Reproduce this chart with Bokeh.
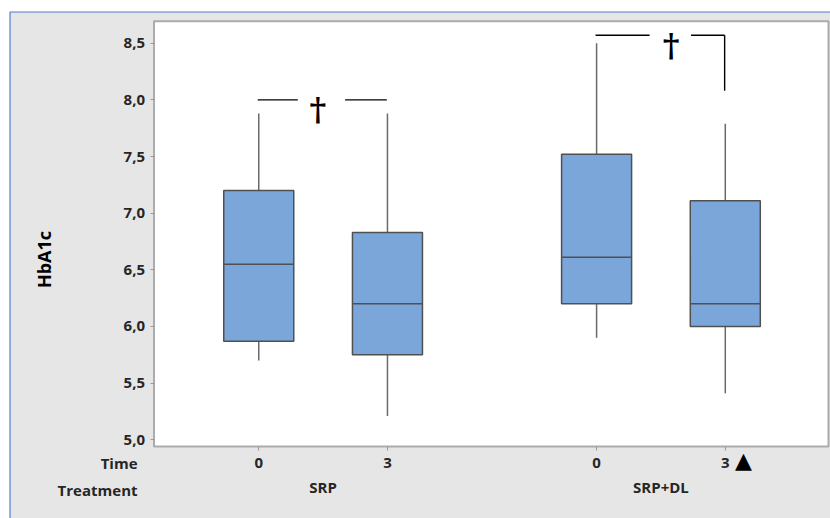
from bokeh.plotting import figure
from bokeh.models import (Range1d, FixedTicker, CustomJSTickFormatter, LinearAxis,
                          Label, ColumnDataSource)
from bokeh.core.properties import value
from bokeh.embed import file_html
from bokeh.resources import INLINE

# --- data -------------------------------------------------------------
treatment = ["SRP", "SRP", "SRP+DL", "SRP+DL"]
time = ["0", "3", "0", "3"]
positions = [1.0, 2.0, 3.625, 4.625]
whisker_low = [5.70, 5.21, 5.90, 5.41]
q1 = [5.87, 5.75, 6.20, 6.00]
median = [6.55, 6.20, 6.61, 6.20]
q3 = [7.20, 6.83, 7.52, 7.11]
whisker_high = [7.88, 7.88, 8.50, 7.79]

y_ticks = [5.0, 5.5, 6.0, 6.5, 7.0, 7.5, 8.0, 8.5]
group_names = ["SRP", "SRP+DL"]
group_centers = [1.5, 4.125]

# significance brackets: which boxes they join and the level they sit at
bracket_from = [0, 2]
bracket_to = [1, 3]
bracket_level = [8.0, 8.57]
bracket_drop = [None, 8.08]

# --- style ------------------------------------------------------------
BOX_FILL = "#7BA6DA"
BOX_LINE = "#505050"
WHISKER = "#6A6A6A"
PANEL_BG = "#E6E6E6"
PANEL_EDGE = "#4F7FCB"
FRAME_LINE = "#ABABAB"
TEXT = "#262626"
FONT = "Open Sans"
BOX_W = 0.544

W, H = 830, 518
# data extent of the white plotting area and where it sits on the page (px)
XLO, XHI, YLO, YHI = 0.186, 5.427, 4.941, 8.694
PL, PR, PT, PB = 153.5, 828.0, 20.7, 446.0
sx = (XHI - XLO) / (PR - PL)
sy = (YHI - YLO) / (PB - PT)
x_range = Range1d(XLO - PL * sx, XHI + (W - PR) * sx)
y_range = Range1d(YLO - (H - PB) * sy, YHI + PT * sy)


def px_x(px):
    return x_range.start + px * sx


def px_y(py):
    return y_range.end - py * sy


p = figure(width=W, height=H, x_range=x_range, y_range=y_range,
           output_backend="svg", toolbar_location=None,
           min_border=0, min_border_left=0, min_border_right=0,
           min_border_top=0, min_border_bottom=0,
           background_fill_color="white", border_fill_color="white",
           outline_line_color=None)
p.title = None
p.grid.visible = False

# grey panel with its blue edge, then the white plotting area
p.quad(left=[px_x(9.5)], right=[px_x(W + 10)], top=[px_y(11.5)], bottom=[px_y(H + 10)],
       fill_color=PANEL_BG, line_color=PANEL_EDGE, line_width=1.2)
p.quad(left=[XLO], right=[XHI], top=[YHI], bottom=[YLO],
       fill_color="white", line_color=FRAME_LINE, line_width=2)

src = ColumnDataSource(dict(x=positions, low=whisker_low, q1=q1, med=median,
                            q3=q3, high=whisker_high,
                            left=[x - BOX_W / 2 for x in positions],
                            right=[x + BOX_W / 2 for x in positions]))

# whiskers
p.segment(x0="x", y0="low", x1="x", y1="q1", source=src,
          line_color=WHISKER, line_width=1.5)
p.segment(x0="x", y0="q3", x1="x", y1="high", source=src,
          line_color=WHISKER, line_width=1.5)
# boxes and medians
p.vbar(x="x", bottom="q1", top="q3", width=BOX_W, source=src,
       fill_color=BOX_FILL, line_color=BOX_LINE, line_width=1.5)
p.segment(x0="left", y0="med", x1="right", y1="med", source=src,
          line_color=BOX_LINE, line_width=1.5)

# significance brackets with a dagger in the gap
gap_lo = [0.303, 0.412]
gap_hi = [0.671, 0.734]
dagger_at = [0.459, 0.579]
for a, b, lvl, drop, g0, g1, d in zip(bracket_from, bracket_to, bracket_level,
                                      bracket_drop, gap_lo, gap_hi, dagger_at):
    xa, xb = positions[a], positions[b]
    span = xb - xa
    p.segment(x0=[xa - 0.008, xa + g1 * span], y0=[lvl, lvl],
              x1=[xa + g0 * span, xb - 0.005], y1=[lvl, lvl],
              line_color="black", line_width=1.4)
    if drop is not None:
        p.segment(x0=[xb - 0.005], y0=[lvl], x1=[xb - 0.005], y1=[drop],
                  line_color="black", line_width=1.4)
    p.text(x=[xa + d * span], y=[lvl - 0.085], text=["\u2020"],
           text_font=value("DejaVu Serif"), text_font_style="bold",
           text_font_size="32px", text_align="center",
           text_baseline="middle", text_color="black")

# y axis, pinned to the left edge of the plotting area
yax = p.yaxis[0]
yax.fixed_location = XLO
yax.ticker = FixedTicker(ticks=y_ticks)
yax.formatter = CustomJSTickFormatter(code="return tick.toFixed(1).replace('.', ',');")
yax.axis_label = "HbA1c"
yax.axis_label_text_font = FONT
yax.axis_label_text_font_style = "bold"
yax.axis_label_text_font_size = "18px"
yax.axis_label_text_color = "black"
yax.axis_label_standoff = 65

# x axis: time points, pinned to the bottom edge
xax = p.xaxis[0]
xax.fixed_location = YLO
xax.ticker = FixedTicker(ticks=positions)
xax.formatter = CustomJSTickFormatter(
    args=dict(pos=positions, lab=time),
    code="const i = pos.indexOf(tick); return i < 0 ? '' : lab[i];")

for ax in (yax, xax):
    ax.axis_line_color = None
    ax.major_tick_in = 0
    ax.major_tick_out = 4
    ax.major_tick_line_color = "#9A9A9A"
    ax.minor_tick_line_color = None
    ax.major_label_standoff = 5
    ax.major_label_text_font = FONT
    ax.major_label_text_font_style = "bold"
    ax.major_label_text_font_size = "15px"
    ax.major_label_text_color = TEXT
xax.major_label_standoff = 7

# second row below: treatment groups
gax = LinearAxis(fixed_location=YLO,
                 ticker=FixedTicker(ticks=group_centers),
                 formatter=CustomJSTickFormatter(
                     args=dict(pos=group_centers, lab=group_names),
                     code="const i = pos.indexOf(tick); return i < 0 ? '' : lab[i];"),
                 axis_line_color=None, major_tick_in=0, major_tick_out=0,
                 minor_tick_line_color=None, major_label_standoff=30,
                 major_label_text_font=FONT, major_label_text_font_style="bold",
                 major_label_text_font_size="15px", major_label_text_color=TEXT)
p.add_layout(gax, "below")

# row titles
for txt, yy in (("Time", 462.7), ("Treatment", 489.5)):
    p.add_layout(Label(x=137, y=yy, x_units="canvas", y_units="canvas", text=txt,
                       text_align="right", text_baseline="middle",
                       text_font=FONT, text_font_style="bold",
                       text_font_size="15px", text_color=TEXT))

# marker next to the last time point
p.add_layout(Label(x=743, y=460, x_units="canvas", y_units="canvas", text="\u25B2",
                   text_align="center", text_baseline="middle",
                   text_font="DejaVu Sans", text_font_size="22px", text_color="black"))

open("out.html", "w").write(file_html(p, INLINE))
